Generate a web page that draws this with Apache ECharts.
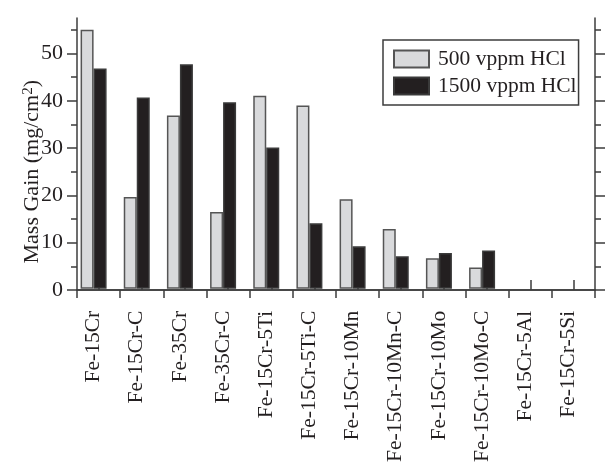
<!DOCTYPE html>
<html>
<head>
<meta charset="utf-8">
<script src="https://cdn.jsdelivr.net/npm/echarts@6/dist/echarts.min.js"></script>
<style>html,body{margin:0;padding:0;background:#fff}#c{width:607px;height:465px}</style>
</head>
<body>
<div id="c"></div>
<script>
var categories = ['Fe-15Cr','Fe-15Cr-C','Fe-35Cr','Fe-35Cr-C','Fe-15Cr-5Ti','Fe-15Cr-5Ti-C','Fe-15Cr-10Mn','Fe-15Cr-10Mn-C','Fe-15Cr-10Mo','Fe-15Cr-10Mo-C','Fe-15Cr-5Al','Fe-15Cr-5Si'];
var seriesNames = ['500 vppm HCl','1500 vppm HCl'];
var gain500 = [55.0, 19.5, 36.8, 16.3, 41.0, 38.9, 19.0, 12.7, 6.5, 4.5, null, null];
var gain1500 = [46.8, 40.6, 47.7, 39.6, 30.0, 13.9, 9.0, 6.9, 7.6, 8.1, null, null];
var yMax = 57.5;

var FONT = "'Liberation Serif','DejaVu Serif',serif";
var TXT = '#231f20';
var AX = '#3d3d3d';
var top0 = 18, h0 = 272, bottom0 = top0 + h0;
function yPix(v){ return bottom0 - v * h0 / yMax; }
var axLine = {show:true, lineStyle:{color:AX, width:1.5}};
var noTick = {show:false};

var chart = echarts.init(document.getElementById('c'), null, {renderer:'canvas'});
chart.setOption({
  animation:false,
  backgroundColor:'#fff',
  grid:[
    {left:72, width:518, top:top0, height:h0},
    {left:77, width:518, top:top0, height:h0},
    {left:77, width:518, top:yPix(50), height:bottom0 - yPix(50)},
    {left:77, width:518, top:yPix(55), height:bottom0 - yPix(55)}
  ],
  legend:{
    data:seriesNames, orient:'vertical', left:383, top:40,
    itemWidth:35, itemHeight:17, itemGap:5, padding:[8,2,8,10],
    borderColor:AX, borderWidth:1.5, backgroundColor:'#fff',
    textStyle:{fontFamily:FONT, fontSize:21.5, lineHeight:17, color:TXT, padding:[0,0,0,4]},
    icon:'rect'
  },
  xAxis:[
    {gridIndex:0, type:'category', data:categories, position:'bottom',
     axisLine:{show:false}, axisTick:noTick, splitLine:{show:false},
     axisLabel:{rotate:90, margin:22, fontFamily:FONT, fontSize:21.5, color:TXT, interval:0}},
    {gridIndex:1, type:'category', data:categories, position:'bottom',
     axisLine:axLine, axisTick:{show:true, inside:false, length:8, lineStyle:{color:AX, width:1.5}, interval:0},
     axisLabel:{show:false}, splitLine:{show:false}},
    {gridIndex:1, type:'category', data:categories, position:'top',
     axisLine:axLine, axisTick:{show:true, alignWithLabel:true, inside:false, length:10, lineStyle:{color:AX, width:1.5}, interval:0},
     axisLabel:{show:false}, splitLine:{show:false}},
    {gridIndex:2, type:'value', show:false, min:0, max:1},
    {gridIndex:3, type:'value', show:false, min:0, max:1}
  ],
  yAxis:[
    {gridIndex:0, type:'value', min:0, max:yMax, show:false, splitLine:{show:false}},
    {gridIndex:1, type:'value', min:0, max:yMax, position:'left', axisLine:axLine, axisTick:noTick, axisLabel:{show:false}, splitLine:{show:false}},
    {gridIndex:1, type:'value', min:0, max:yMax, position:'right', axisLine:axLine, axisTick:noTick, axisLabel:{show:false}, splitLine:{show:false}},
    {gridIndex:2, type:'value', min:0, max:50, interval:10, position:'left',
     axisLine:{show:false}, axisTick:{show:true, inside:false, length:10, lineStyle:{color:AX, width:1.5}},
     axisLabel:{show:true, margin:14, fontFamily:FONT, fontSize:22, color:TXT},
     splitLine:{show:false},
     name:'{a|Mass Gain (mg/cm}{s|2}{a|)}', nameLocation:'middle', nameGap:34, nameMoveOverlap:false,
     nameTextStyle:{fontFamily:FONT, fontSize:22, color:TXT,
       rich:{a:{fontFamily:FONT, fontSize:22, color:TXT}, s:{fontFamily:FONT, fontSize:15, color:TXT, verticalAlign:'top'}}}},
    {gridIndex:2, type:'value', min:0, max:50, interval:10, position:'right',
     axisLine:{show:false}, axisTick:{show:true, inside:false, length:10, lineStyle:{color:AX, width:1.5}},
     axisLabel:{show:false}, splitLine:{show:false}},
    {gridIndex:3, type:'value', min:0, max:55, interval:5, position:'left',
     axisLine:{show:false}, axisTick:{show:true, inside:false, length:6, lineStyle:{color:AX, width:1.5}},
     axisLabel:{show:false}, splitLine:{show:false}},
    {gridIndex:3, type:'value', min:0, max:55, interval:5, position:'right',
     axisLine:{show:false}, axisTick:{show:true, inside:false, length:6, lineStyle:{color:AX, width:1.5}},
     axisLabel:{show:false}, splitLine:{show:false}}
  ],
  series:[
    {name:seriesNames[0], type:'bar', xAxisIndex:0, yAxisIndex:0, data:gain500, barWidth:13, barGap:'0%',
     itemStyle:{color:'#d9dadc', borderColor:'#555555', borderWidth:1.5}},
    {name:seriesNames[1], type:'bar', xAxisIndex:0, yAxisIndex:0, data:gain1500, barWidth:13, barGap:'0%',
     itemStyle:{color:'#231f20', borderColor:'#3a3a3a', borderWidth:1.5}}
  ]
});
</script>
</body>
</html>
